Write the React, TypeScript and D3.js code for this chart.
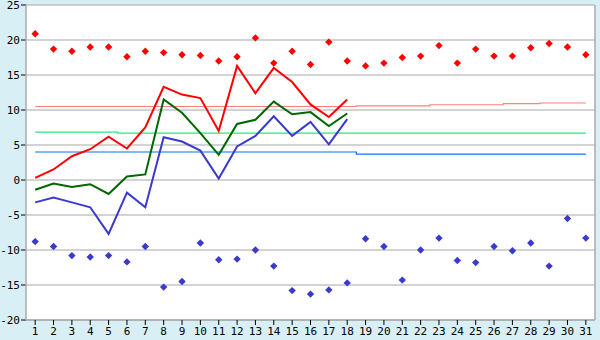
import React from "react";
import * as d3 from "d3";

const days = d3.range(1, 32);
const recordMax = [20.9, 18.7, 18.4, 19.0, 19.0, 17.6, 18.4, 18.2, 17.9, 17.8, 17.0, 17.6, 20.3, 16.7, 18.4, 16.5, 19.7, 17.0, 16.3, 16.7, 17.5, 17.7, 19.2, 16.7, 18.7, 17.7, 17.7, 18.9, 19.5, 19.0, 17.9];
const recordMin = [-8.8, -9.5, -10.8, -11.0, -10.8, -11.7, -9.5, -15.3, -14.5, -9.0, -11.4, -11.3, -10.0, -12.3, -15.8, -16.3, -15.7, -14.7, -8.4, -9.5, -14.3, -10.0, -8.3, -11.5, -11.8, -9.5, -10.1, -9.0, -12.3, -5.5, -8.3];
const dailyMax = [0.3, 1.5, 3.4, 4.4, 6.2, 4.5, 7.5, 13.3, 12.2, 11.7, 7.0, 16.3, 12.4, 16.0, 14.0, 10.8, 9.0, 11.5];
const dailyMean = [-1.4, -0.5, -1.0, -0.6, -2.0, 0.5, 0.8, 11.5, 9.6, 6.7, 3.6, 8.0, 8.6, 11.2, 9.4, 9.7, 7.7, 9.5];
const dailyMin = [-3.2, -2.5, -3.2, -3.9, -7.7, -1.8, -3.9, 6.1, 5.5, 4.2, 0.2, 4.8, 6.3, 9.1, 6.3, 8.3, 5.1, 8.7];
const normalMax = [10.5, 10.5, 10.5, 10.5, 10.5, 10.5, 10.5, 10.5, 10.5, 10.5, 10.5, 10.5, 10.5, 10.5, 10.5, 10.5, 10.5, 10.5, 10.6, 10.6, 10.6, 10.6, 10.75, 10.75, 10.75, 10.75, 10.9, 10.9, 11.0, 11.0, 11.0];
const normalMean = [6.85, 6.85, 6.85, 6.85, 6.85, 6.7, 6.7, 6.7, 6.7, 6.7, 6.7, 6.7, 6.7, 6.7, 6.7, 6.7, 6.7, 6.7, 6.7, 6.7, 6.7, 6.7, 6.7, 6.7, 6.7, 6.7, 6.7, 6.7, 6.7, 6.7, 6.7];
const normalMin = [4.0, 4.0, 4.0, 4.0, 4.0, 4.0, 4.0, 4.0, 4.0, 4.0, 4.0, 4.0, 4.0, 4.0, 4.0, 4.0, 4.0, 4.0, 3.7, 3.7, 3.7, 3.7, 3.7, 3.7, 3.7, 3.7, 3.7, 3.7, 3.7, 3.7, 3.7];
const yTicks = [-20, -15, -10, -5, 0, 5, 10, 15, 20, 25];

const W = 600, H = 340;
const L = 26, R = 595, T = 5, B = 320;
const FONT = "'DejaVu Sans Mono', monospace";

export default function App() {
  const x = d3.scalePoint<number>().domain(days).range([L, R]).padding(0.5);
  const y = d3.scaleLinear().domain([-20, 25]).range([B, T]);

  const line = d3.line<number>().x((_, i) => x(days[i])!).y((v) => y(v));
  const stepLine = d3.line<number>().x((_, i) => x(days[i])!).y((v) => y(v)).curve(d3.curveStep);

  const diamond = (cx: number, cy: number) => {
    const r = 3.7;
    return `M${cx},${cy - r}L${cx + r},${cy}L${cx},${cy + r}L${cx - r},${cy}Z`;
  };

  return (
    <svg width={W} height={H} style={{ position: "absolute", left: 0, top: 0 }}>
      <rect x={0} y={0} width={W} height={H} fill="#d9eff6" />
      <rect x={L} y={T} width={R - L} height={B - T} fill="#ffffff" />
      {yTicks.map((t) => (
        <g key={t}>
          <line x1={L} x2={R} y1={y(t)} y2={y(t)} stroke="#a8a8a8" strokeWidth={1.2} />
          <line x1={L - 5} x2={L} y1={y(t)} y2={y(t)} stroke="#000" strokeWidth={1} />
          <text x={L - 6} y={y(t)} dy="0.35em" textAnchor="end" fontFamily={FONT} fontSize={11} fill="#000">
            {t}
          </text>
        </g>
      ))}
      <line x1={L} x2={L} y1={T} y2={B} stroke="#aaaaaa" strokeWidth={1.5} />
      <line x1={R} x2={R} y1={T} y2={B} stroke="#aaaaaa" strokeWidth={1.5} />
      <line x1={L} x2={R} y1={B} y2={B} stroke="#aaaaaa" strokeWidth={1.5} />
      {days.map((d) => (
        <g key={d}>
          <line x1={x(d)} x2={x(d)} y1={B} y2={B + 5} stroke="#000" strokeWidth={1} />
          <text x={x(d)} y={B + 14} dy="0.1em" textAnchor="middle" fontFamily={FONT} fontSize={11} fill="#000">
            {d}
          </text>
        </g>
      ))}
      <path d={stepLine(normalMax)!} fill="none" stroke="#ff8080" strokeWidth={1.2} />
      <path d={stepLine(normalMean)!} fill="none" stroke="#2ee87c" strokeWidth={1.2} />
      <path d={stepLine(normalMin)!} fill="none" stroke="#0a70f0" strokeWidth={1.2} />
      <path d={line(dailyMax)!} fill="none" stroke="#ff0000" strokeWidth={2} />
      <path d={line(dailyMean)!} fill="none" stroke="#006600" strokeWidth={2} />
      <path d={line(dailyMin)!} fill="none" stroke="#3a3acc" strokeWidth={2} />
      {recordMax.map((v, i) => (
        <path key={"rx" + i} d={diamond(x(days[i])!, y(v))} fill="#ff0000" />
      ))}
      {recordMin.map((v, i) => (
        <path key={"rn" + i} d={diamond(x(days[i])!, y(v))} fill="#3a3acc" />
      ))}
    </svg>
  );
}
